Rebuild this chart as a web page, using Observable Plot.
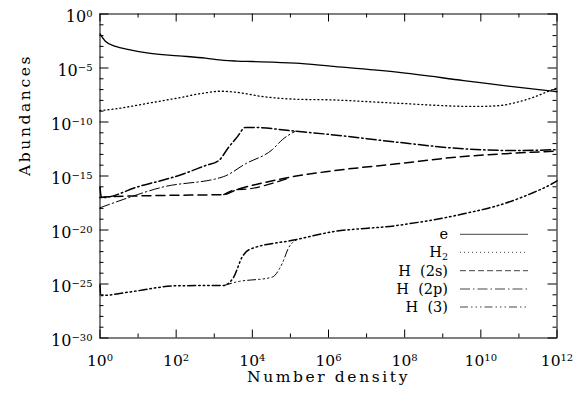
<!DOCTYPE html>
<html><head><meta charset="utf-8">
<script src="https://cdn.jsdelivr.net/npm/d3@7"></script>
<script src="https://cdn.jsdelivr.net/npm/@observablehq/plot@0.6"></script>
<style>
body{margin:0;background:#fff;}
#wrap{position:relative;width:585px;height:394px;}
#legend{position:absolute;left:0;top:0;}
</style></head><body><div id="wrap"></div>
<script>
// ---- data (log10 of number density, log10 of abundance) ----
const eLogN   = [0, 0.14, 0.41, 0.76, 1.28, 2.07, 2.77, 3.25, 3.6, 4.0, 5.13, 6.05, 7.8, 9.55, 10.95, 11.87, 12];
const eLogA   = [-1.85, -2.52, -3.0, -3.3, -3.63, -3.87, -4.09, -4.3, -4.36, -4.4, -4.55, -4.83, -5.39, -6.16, -6.78, -7.15, -7.2];
const h2LogN  = [0, 0.41, 1.19, 2.07, 2.77, 3.16, 3.56, 4.26, 5.13, 6.05, 7.8, 9.81, 10.43, 10.95, 11.39, 11.87, 12];
const h2LogA  = [-8.94, -8.78, -8.31, -7.76, -7.3, -7.15, -7.24, -7.64, -7.89, -7.95, -8.26, -8.56, -8.5, -8.17, -7.7, -7.02, -6.85];
const h2sLogN = [0, 0.1, 1.63, 3.25, 3.6, 4.3, 5.0, 6.05, 7.8, 9.55, 10.86, 11.91, 12];
const h2sLogA = [-17.0, -16.95, -16.8, -16.72, -16.25, -15.62, -15.1, -14.55, -13.87, -13.19, -12.89, -12.7, -12.68];
const h2sBLogN = [3.25, 3.6, 3.9, 4.3, 5.0];
const h2sBLogA = [-16.72, -16.25, -16.2, -15.9, -15.15];
const h2pLogN = [0, 0.03, 0.06, 1.02, 2.07, 2.77, 3.12, 3.38, 3.6, 3.82, 4.0, 5.13, 6.05, 7.8, 9.55, 10.86, 11.91, 12];
const h2pLogA = [-16.05, -16.9, -17.0, -15.97, -14.95, -14.03, -13.56, -12.33, -11.4, -10.5, -10.5, -10.85, -11.16, -11.87, -12.48, -12.64, -12.57, -12.55];
const h2pBLogN = [0, 0.41, 1.63, 3.25, 3.82, 4.52, 4.8, 5.13];
const h2pBLogA = [-17.94, -17.42, -16.04, -15.05, -13.87, -12.57, -11.6, -10.85];
const h3LogN  = [0, 0.02, 0.93, 1.98, 3.03, 3.25, 3.4, 3.51, 3.73, 3.91, 5.13, 6.05, 7.8, 9.55, 10.6, 11.3, 11.87, 12];
const h3LogA  = [-25.1, -26.06, -25.66, -25.17, -25.14, -25.14, -24.85, -24.37, -22.52, -21.83, -20.9, -20.2, -19.58, -18.5, -17.57, -16.65, -15.72, -15.45];
const h3BLogN = [3.25, 3.56, 4.52, 4.78, 4.96, 5.22];
const h3BLogA = [-25.14, -24.83, -24.37, -23.13, -21.6, -20.82];

const xMajorExp = [0, 2, 4, 6, 8, 10, 12];
const xMinorExp = [1, 3, 5, 7, 9, 11];
const yMajorExp = [0, -5, -10, -15, -20, -25, -30];
const yMinorExp = [-1,-2,-3,-4,-6,-7,-8,-9,-11,-12,-13,-14,-16,-17,-18,-19,-21,-22,-23,-24,-26,-27,-28,-29];
const legendLabels = ["e", "H_2", "H  (2s)", "H  (2p)", "H  (3)"];

// ---- styles ----
const DOT = "1,3", DASH = "9,5", DASHDOT = "10,3,1.5,3", DASH3DOT = "8,3,1.5,3,1.5,3,1.5,3";
const series = [
  {n: eLogN, a: eLogA, dash: null, w: 1.3},
  {n: h2LogN, a: h2LogA, dash: DOT, w: 1.3},
  {n: h2sLogN, a: h2sLogA, dash: DASH, w: 1.5},
  {n: h2sBLogN, a: h2sBLogA, dash: DASH, w: 1.3},
  {n: h2pLogN, a: h2pLogA, dash: DASHDOT, w: 1.5},
  {n: h2pBLogN, a: h2pBLogA, dash: DASHDOT, w: 1},
  {n: h3LogN, a: h3LogA, dash: DASH3DOT, w: 1.5},
  {n: h3BLogN, a: h3BLogA, dash: DASH3DOT, w: 1}
];
const legendDash = [null, DOT, "6,3", DASHDOT, DASH3DOT];

const W = 585, H = 394, mL = 99.5, mR = 28.5, mT = 13.5, mB = 56.5;
const pw = W - mL - mR, ph = H - mT - mB;
const FONT = "DejaVu Serif";
const pts = (ln, la) => ln.map((d, i) => ({x: 10 ** d, y: 10 ** la[i]}));
const p10 = e => 10 ** e;
const sup = e => "10^" + String(e).replace("-", "\u2212");

const chart = Plot.plot({
  width: W, height: H, marginLeft: mL, marginRight: mR, marginTop: mT, marginBottom: mB,
  style: {fontFamily: FONT, background: "white", color: "black"},
  x: {type: "log", domain: [1, 1e12], axis: null},
  y: {type: "log", domain: [1e-30, 1], axis: null},
  marks: [
    ...series.map(s => Plot.line(pts(s.n, s.a), {x: "x", y: "y", stroke: "black", strokeWidth: s.w, strokeDasharray: s.dash, curve: "monotone-x"})),
    Plot.frame({stroke: "black", strokeWidth: 1}),
    Plot.tickX(xMajorExp, {x: p10, insetTop: ph - 8, stroke: "black"}),
    Plot.tickX(xMajorExp, {x: p10, insetBottom: ph - 8, stroke: "black"}),
    Plot.tickX(xMinorExp, {x: p10, insetTop: ph - 4, stroke: "black"}),
    Plot.tickX(xMinorExp, {x: p10, insetBottom: ph - 4, stroke: "black"}),
    Plot.tickY(yMajorExp, {y: p10, insetRight: pw - 9, stroke: "black"}),
    Plot.tickY(yMajorExp, {y: p10, insetLeft: pw - 9, stroke: "black"}),
    Plot.tickY(yMinorExp, {y: p10, insetRight: pw - 4, stroke: "black"}),
    Plot.tickY(yMinorExp, {y: p10, insetLeft: pw - 4, stroke: "black"}),
    Plot.text(xMajorExp, {x: p10, frameAnchor: "bottom", dy: 27.5, text: sup, fontSize: 15.5, fill: "black"}),
    Plot.text(yMajorExp, {y: p10, frameAnchor: "left", dx: -7.5, dy: 2.5, textAnchor: "end", text: sup, fontSize: 16, fill: "black"}),
    Plot.text(["Number density"], {frameAnchor: "bottom", dy: 44, fontSize: 15.5, fill: "black"}),
    Plot.text(["Abundances"], {frameAnchor: "left", dx: -74.5, rotate: -90, fontSize: 15.5, fill: "black"})
  ]
});

// superscripts
d3.select(chart).selectAll("text").each(function() {
  const t = this.textContent;
  if (t.includes("^")) {
    const [base, ex] = t.split("^");
    const sel = d3.select(this);
    sel.text(null);
    sel.append("tspan").text(base);
    sel.append("tspan").attr("dy", "-5").attr("font-size", 10).text(ex);
  }
});
d3.select(chart).selectAll("text").filter(function(){return this.textContent === "Number density" || this.textContent === "Abundances";})
  .attr("letter-spacing", "2.6px");

const wrap = document.getElementById("wrap");
wrap.appendChild(chart);

// legend overlay
const rowY = [234.3, 252.3, 270.7, 289, 307];
const lg = d3.select(wrap).append("svg").attr("id", "legend").attr("width", W).attr("height", H)
  .style("font-family", FONT).style("font-size", "14.5px");
legendLabels.forEach((lab, i) => {
  lg.append("line").attr("x1", 460).attr("x2", 528).attr("y1", rowY[i]).attr("y2", rowY[i])
    .attr("stroke", "#444").attr("stroke-width", 1).attr("stroke-dasharray", legendDash[i]);
  const t = lg.append("text").attr("x", 448).attr("y", rowY[i] + 5).attr("text-anchor", "end").style("white-space", "pre");
  if (lab.includes("_")) {
    const [b, s] = lab.split("_");
    t.append("tspan").text(b);
    t.append("tspan").attr("dy", 2.5).attr("font-size", 9.5).text(s);
  } else t.text(lab);
});
</script></body></html>
